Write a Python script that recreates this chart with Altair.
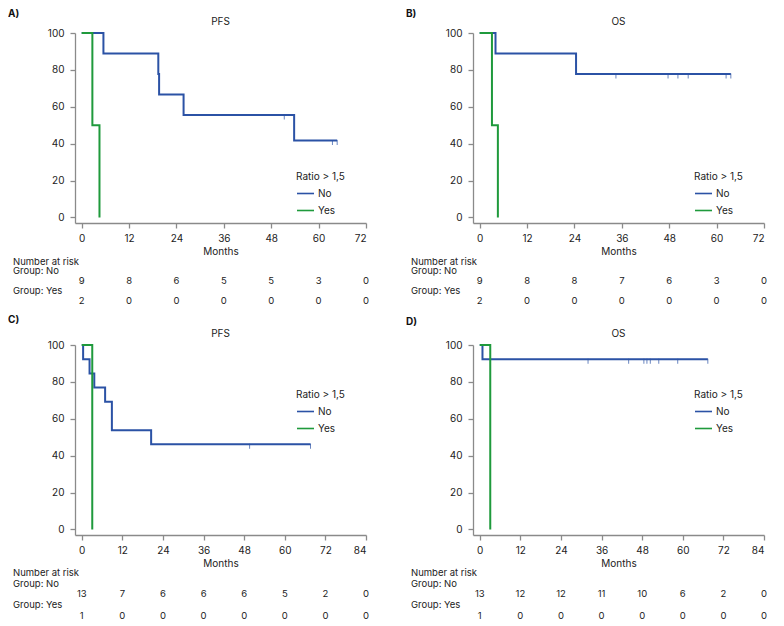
import altair as alt
import pandas as pd

BLUE = "#2b52a5"
GREEN = "#1f9a3c"
FONT = "Inter"
FS = 10
FS_TAB = 9.5

# ---------- data ----------
# Panel A (PFS)
A_no_t = [0, 5.5, 19.4, 19.6, 25.8, 53.8, 64.7]
A_no_s = [100, 88.9, 77.8, 66.7, 55.6, 41.7, 41.7]
A_yes_t = [0, 2.7, 4.5]
A_yes_s = [100, 50, 0]
A_cens_t = [51.3, 63.5, 64.7]
A_cens_s = [55.6, 41.7, 41.7]
A_risk_t = [0, 12, 24, 36, 48, 60, 72]
A_risk_no = [9, 8, 6, 5, 5, 3, 0]
A_risk_yes = [2, 0, 0, 0, 0, 0, 0]

# Panel B (OS)
B_no_t = [0, 4.0, 24.4, 63.6]
B_no_s = [100, 88.9, 77.8, 77.8]
B_yes_t = [0, 3.1, 4.6]
B_yes_s = [100, 50, 0]
B_cens_t = [34.5, 47.7, 50.2, 52.8, 62.4, 63.6]
B_cens_s = [77.8, 77.8, 77.8, 77.8, 77.8, 77.8]
B_risk_t = [0, 12, 24, 36, 48, 60, 72]
B_risk_no = [9, 8, 8, 7, 6, 3, 0]
B_risk_yes = [2, 0, 0, 0, 0, 0, 0]

# Panel C (PFS)
C_no_t = [0, 0.4, 2.3, 3.7, 6.9, 8.9, 20.5, 67.6]
C_no_s = [100, 92.3, 84.6, 76.9, 69.2, 53.8, 46.2, 46.2]
C_yes_t = [0, 3.1]
C_yes_s = [100, 0]
C_cens_t = [49.6, 67.6]
C_cens_s = [46.2, 46.2]
C_risk_t = [0, 12, 24, 36, 48, 60, 72, 84]
C_risk_no = [13, 7, 6, 6, 6, 5, 2, 0]
C_risk_yes = [1, 0, 0, 0, 0, 0, 0, 0]

# Panel D (OS)
D_no_t = [0, 0.8, 67.4]
D_no_s = [100, 92.3, 92.3]
D_yes_t = [0, 3.1]
D_yes_s = [100, 0]
D_cens_t = [32.0, 44.0, 48.5, 49.4, 50.4, 52.9, 58.5, 67.4]
D_cens_s = [92.3] * 8
D_risk_t = [0, 12, 24, 36, 48, 60, 72, 84]
D_risk_no = [13, 12, 12, 11, 10, 6, 2, 0]
D_risk_yes = [1, 0, 0, 0, 0, 0, 0, 0]

Y_TICKS = [0, 20, 40, 60, 80, 100]
ROWS = ["hdr", "gno", "nno", "gyes", "nyes"]
ROW_LABELS = {"hdr": "Number at risk", "gno": "Group: No", "gyes": "Group: Yes"}
GROUPS = ["No", "Yes"]

W, H = 291, 190


def panel(letter, title, xmin, xmax, no_t, no_s, yes_t, yes_s, cens_t, cens_s,
          risk_t, risk_no, risk_yes, legend_y, letter_y, row_range):
    km = pd.DataFrame({
        "t": no_t + yes_t,
        "s": no_s + yes_s,
        "group": ["No"] * len(no_t) + ["Yes"] * len(yes_t),
    })
    cens = pd.DataFrame({"t": cens_t, "s": cens_s})
    nums = pd.DataFrame({
        "t": risk_t + risk_t,
        "row": ["nno"] * len(risk_t) + ["nyes"] * len(risk_t),
        "n": [str(v) for v in risk_no + risk_yes],
    })
    labs = pd.DataFrame({"row": list(ROW_LABELS.keys()),
                         "label": list(ROW_LABELS.values())})

    xscale = alt.Scale(domain=[xmin, xmax], nice=False, zero=False)
    X = alt.X("t:Q", scale=xscale,
              axis=alt.Axis(values=list(range(0, xmax + 1, 12)), title="Months"))
    yscale = alt.Scale(domain=[-3, 100], nice=False, zero=False)
    Y = alt.Y("s:Q", scale=yscale, axis=alt.Axis(values=Y_TICKS, title=None))
    Yrow = alt.Y("row:N", scale=alt.Scale(domain=ROWS, range=row_range, padding=0),
                 axis=None)

    lines = alt.Chart(km).mark_line(interpolate="step-after", strokeWidth=2).encode(
        x=X, y=Y,
        color=alt.Color("group:N",
                        scale=alt.Scale(domain=GROUPS, range=[BLUE, GREEN]),
                        legend=alt.Legend(title="Ratio > 1,5", orient="none",
                                          legendX=221, legendY=legend_y,
                                          symbolType="stroke", symbolSize=289,
                                          symbolStrokeWidth=1.6, padding=0,
                                          titlePadding=2, rowPadding=2,
                                          labelOffset=3)),
    )
    ticks = alt.Chart(cens).mark_tick(orient="vertical", size=5, thickness=1,
                                      color=BLUE, yOffset=2).encode(
        x=X, y=alt.Y("s:Q", scale=yscale, axis=None))
    numbers = alt.Chart(nums).mark_text(fontSize=FS_TAB, font=FONT, color="#222",
                                        align="center", baseline="middle").encode(
        x=X, y=Yrow, text="n:N")
    labels = alt.Chart(labs).mark_text(fontSize=FS_TAB, font=FONT, color="#222",
                                       align="left", baseline="middle").encode(
        x=alt.value(-62), y=Yrow, text="label:N")
    tag = alt.Chart(pd.DataFrame({"label": [letter]})).mark_text(
        fontSize=10, font=FONT, fontWeight="bold", color="#111",
        align="left", baseline="middle").encode(
        x=alt.value(-67), y=alt.value(letter_y), text="label:N")
    head = alt.Chart(pd.DataFrame({"label": [title]})).mark_text(
        fontSize=FS, font=FONT, color="#222",
        align="center", baseline="middle").encode(
        x=alt.value(W / 2), y=alt.value(-11), text="label:N")

    return alt.layer(lines, ticks, numbers, labels, tag, head).resolve_scale(
        y="independent").properties(width=W, height=H)


A = panel("A)", "PFS", -1.7, 72, A_no_t, A_no_s, A_yes_t, A_yes_s, A_cens_t, A_cens_s,
          A_risk_t, A_risk_no, A_risk_yes, 139, -19, [228.6, 267.5])
B = panel("B)", "OS", -1.7, 72, B_no_t, B_no_s, B_yes_t, B_yes_s, B_cens_t, B_cens_s,
          B_risk_t, B_risk_no, B_risk_yes, 139, -19, [228.6, 267.5])
C = panel("C)", "PFS", -2, 84, C_no_t, C_no_s, C_yes_t, C_yes_s, C_cens_t, C_cens_s,
          C_risk_t, C_risk_no, C_risk_yes, 45, -25, [227.7, 271.2])
D = panel("D)", "OS", -2, 84, D_no_t, D_no_s, D_yes_t, D_yes_s, D_cens_t, D_cens_s,
          D_risk_t, D_risk_no, D_risk_yes, 45, -23, [227.7, 271.2])

top = alt.hconcat(A, B, spacing=37).resolve_scale(color="independent").resolve_legend(color="independent")
bottom = alt.hconcat(C, D, spacing=37).resolve_scale(color="independent").resolve_legend(color="independent")

chart = alt.vconcat(top, bottom, spacing=10).resolve_scale(
    color="independent").resolve_legend(color="independent").properties(
    padding={"left": 0, "right": 0, "top": 1, "bottom": 0}
).configure_view(stroke=None).configure_axis(
    domainColor="#8a8a8a", tickColor="#8a8a8a", domainWidth=1.3, tickWidth=1.3,
    tickSize=5, labelFont=FONT, labelFontSize=FS, labelColor="#222",
    titleFont=FONT, titleFontSize=FS, titleColor="#222", titleFontWeight="normal",
    grid=False,
).configure_axisX(labelPadding=5, titlePadding=3).configure_axisY(
    labelPadding=6
).configure_legend(
    titleFont=FONT, titleFontSize=FS, titleFontWeight="normal", titleColor="#222",
    labelFont=FONT, labelFontSize=FS, labelColor="#222",
)

chart.save("out.html", embed_options={"renderer": "svg", "actions": False})
